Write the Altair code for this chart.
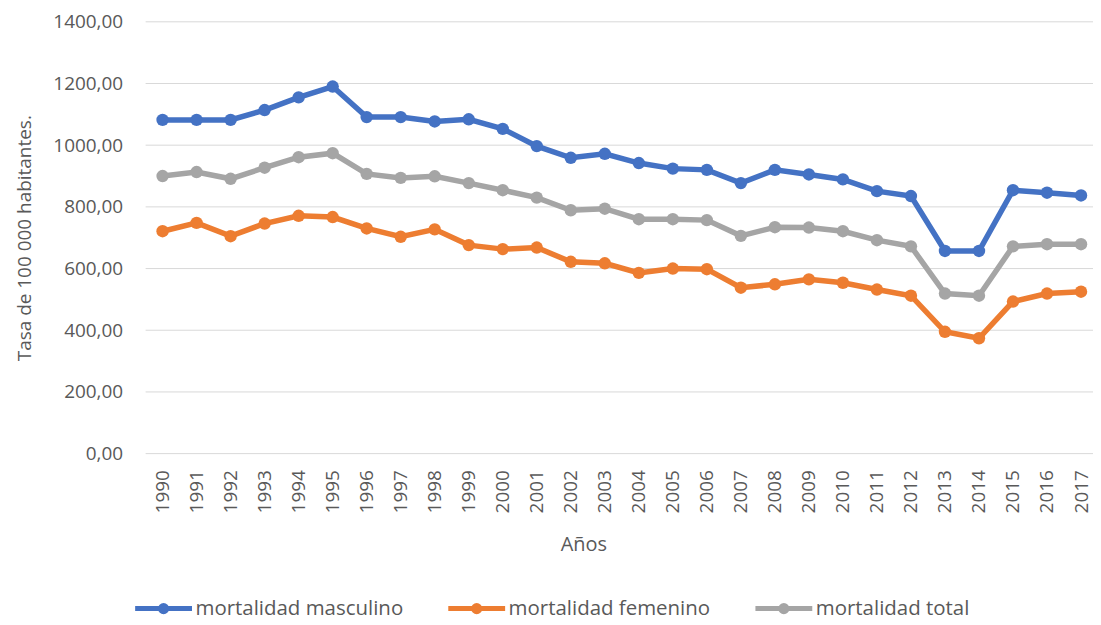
import altair as alt
import pandas as pd

years = ["1990", "1991", "1992", "1993", "1994", "1995", "1996", "1997", "1998", "1999",
         "2000", "2001", "2002", "2003", "2004", "2005", "2006", "2007", "2008", "2009",
         "2010", "2011", "2012", "2013", "2014", "2015", "2016", "2017"]
masculino = [1082, 1082, 1082, 1114, 1155, 1190, 1091, 1091, 1077, 1084,
             1053, 997, 959, 972, 942, 924, 920, 877, 920, 905,
             889, 851, 835, 657, 657, 854, 846, 837]
femenino = [721, 748, 705, 746, 771, 767, 730, 703, 727, 676,
            663, 668, 622, 617, 586, 600, 598, 538, 549, 565,
            554, 532, 512, 395, 374, 493, 519, 525]
total = [900, 913, 891, 927, 961, 974, 907, 894, 899, 877,
         854, 830, 789, 794, 760, 760, 757, 706, 734, 733,
         721, 692, 672, 519, 512, 672, 679, 679]
series_names = ["mortalidad masculino", "mortalidad femenino", "mortalidad total"]
colors = ["#4472C4", "#ED7D31", "#A5A5A5"]
y_ticks = [0, 200, 400, 600, 800, 1000, 1200, 1400]

rows = []
for name, vals in zip(series_names, [masculino, femenino, total]):
    for yr, v in zip(years, vals):
        rows.append({"anio": yr, "serie": name, "valor": v})
df = pd.DataFrame(rows)
grid_df = pd.DataFrame({"valor": y_ticks})

FONT = "Open Sans"
TXT = "#595959"
sym = "M-1,0L1,0M-0.11,0A0.11,0.11,0,1,1,0.11,0A0.11,0.11,0,1,1,-0.11,0Z"

x_enc = alt.X("anio:O", sort=years,
              scale=alt.Scale(type="point", padding=0, range=[17, 938]),
              axis=alt.Axis(title="Años", labelAngle=270, labelPadding=16, ticks=False,
                            domain=False, grid=False,
                            labelFont=FONT, labelFontSize=19, labelColor=TXT,
                            titleFont=FONT, titleFontSize=20, titleColor=TXT,
                            titleFontWeight="normal", titleX=439, titleY=91,
                            titleAlign="center", titleBaseline="middle"))
y_enc = alt.Y("valor:Q",
              scale=alt.Scale(domain=[0, 1400], nice=False, zero=True),
              axis=alt.Axis(values=y_ticks,
                            labelExpr="replace(format(datum.value, '.2f'), '.', ',')",
                            labelFont=FONT, labelFontSize=19, labelColor=TXT,
                            labelPadding=23, ticks=False, domain=False, grid=False,
                            title="Tasa de 100 000 habitantes.", titleFont=FONT,
                            titleFontSize=19, titleColor=TXT, titleFontWeight="normal",
                            titleX=-121, titleY=216.5, titleAngle=270,
                            titleAlign="center", titleBaseline="middle"))

scale = alt.Scale(domain=series_names, range=colors)

leg = alt.Legend(orient="none", legendX=-13, legendY=557,
                 direction="horizontal", title=None,
                 symbolType=sym, symbolSize=3249, symbolStrokeWidth=5,
                 symbolOpacity=1,
                 labelFont=FONT, labelFontSize=20.5,
                 labelColor=TXT, labelOffset=1,
                 labelLimit=400, columnPadding=34, padding=0)

grid = alt.Chart(grid_df).mark_rule(color="#D9D9D9", strokeWidth=1).encode(
    y=y_enc, x=alt.value(0), x2=alt.value(950))

base = alt.Chart(df)
lines = base.mark_line(strokeWidth=5.5).encode(
    x=x_enc, y=y_enc,
    color=alt.Color("serie:N", scale=scale, legend=leg))
points = base.mark_point(filled=True, size=155, opacity=1).encode(
    x=x_enc, y=y_enc,
    color=alt.Color("serie:N", scale=scale, legend=leg))

chart = alt.layer(grid, lines, points).properties(
    width=950, height=433,
    background="white",
    autosize=alt.AutoSizeParams(type="none"),
    padding={"left": 138, "top": 13, "right": 0, "bottom": 166},
).configure_view(stroke=None).configure_axisY(domain=False)

chart.save("out.html", embed_options={"renderer": "svg", "actions": False})
